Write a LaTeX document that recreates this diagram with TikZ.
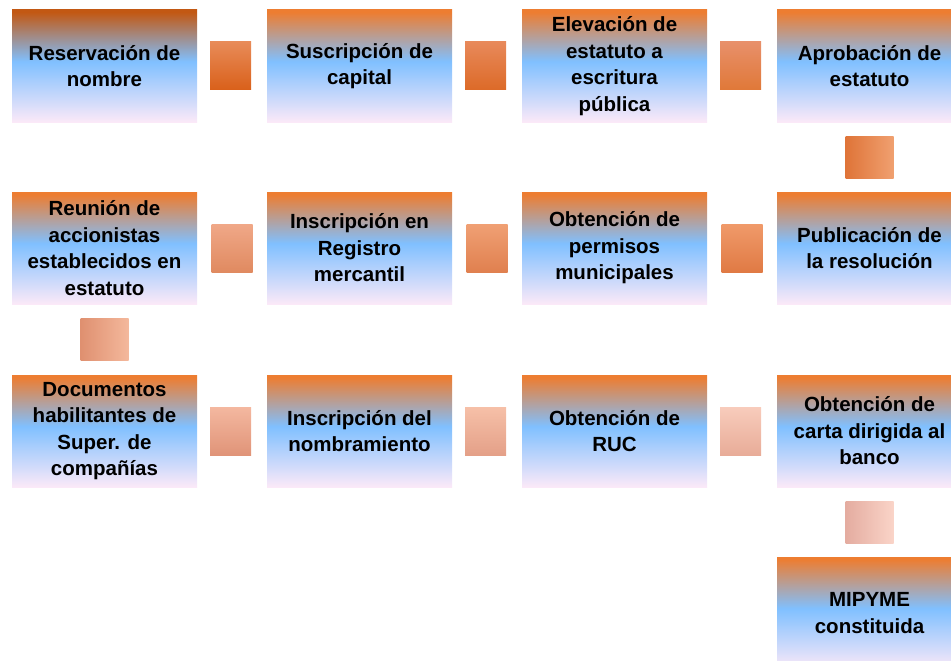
\documentclass[tikz,border=0pt]{standalone}
\usepackage{fontspec}
\setmainfont{Liberation Sans}
\usetikzlibrary{calc}
\definecolor{bpink}{HTML}{FBE9F8}
\definecolor{bblue}{HTML}{80C0FF}
\definecolor{odark}{HTML}{C25813}
\definecolor{olight}{HTML}{ED7D31}
\pgfdeclareverticalshading{boxdark}{100bp}{color(0bp)=(bpink); color(25bp)=(bpink); color(52bp)=(bblue); color(74bp)=(odark); color(100bp)=(odark)}
\pgfdeclareverticalshading{boxlight}{100bp}{color(0bp)=(bpink); color(25bp)=(bpink); color(52bp)=(bblue); color(74bp)=(olight); color(100bp)=(olight)}
\begin{document}
\begin{tikzpicture}[x=1pt,y=-1pt,
  stage/.style={minimum width=185pt, minimum height=112pt, inner sep=0pt, shade, shading=boxlight,
    align=center, font=\bfseries\fontsize{20.5}{26.5}\selectfont},
  hconn/.style={minimum width=41pt, minimum height=48pt, inner sep=0pt},
  vconn/.style={minimum width=48pt, minimum height=42pt, inner sep=0pt}]
\useasboundingbox (0,0) rectangle (951,661);
\clip (0,0) rectangle (951,661);
% stages
\node[stage, shading=boxdark] (b1) at (104.5,66) {Reservación de\\nombre};
\node[stage] (b2) at (359.5,66) {Suscripción de\\capital};
\node[stage] (b3) at (614.5,66) {Elevación de\\estatuto a\\escritura\\pública};
\node[stage] (b4) at (869.5,66) {Aprobación de\\estatuto};
\node[stage] (b5) at (869.5,248) {Publicación de\\la resolución};
\node[stage] (b6) at (614.5,248) {Obtención de\\permisos\\municipales};
\node[stage] (b7) at (359.5,248) {Inscripción en\\Registro\\mercantil};
\node[stage] (b8) at (104.5,248) {Reunión de\\accionistas\\establecidos en\\estatuto};
\node[stage] (b9) at (104.5,431) {Documentos\\habilitantes de\\Super. de\\compañías};
\node[stage] (b10) at (359.5,431) {Inscripción del\\nombramiento};
\node[stage] (b11) at (614.5,431) {Obtención de\\RUC};
\node[stage] (b12) at (869.5,431) {Obtención de\\carta dirigida al\\banco};
\node[stage] (b13) at (869.5,613) {MIPYME\\constituida};
% connectors
\node[hconn, top color={rgb,255:red,232;green,139;blue,88}, bottom color={rgb,255:red,217;green,96;blue,26}, xshift=-1.5pt] (c1) at ($(b1.east)!0.5!(b2.west)$) {};
\node[hconn, top color={rgb,255:red,232;green,137;blue,90}, bottom color={rgb,255:red,220;green,106;blue,40}, xshift=-1.5pt] (c2) at ($(b2.east)!0.5!(b3.west)$) {};
\node[hconn, top color={rgb,255:red,232;green,144;blue,106}, bottom color={rgb,255:red,224;green,120;blue,56}, xshift=-1.5pt] (c3) at ($(b3.east)!0.5!(b4.west)$) {};
\node[vconn, left color={rgb,255:red,223;green,116;blue,56}, right color={rgb,255:red,240;green,160;blue,112}] (c4) at ($(b4.south)!0.5!(b5.north)$) {};
\node[hconn, top color={rgb,255:red,240;green,154;blue,106}, bottom color={rgb,255:red,224;green,122;blue,68}] (c5) at ($(b5.west)!0.5!(b6.east)$) {};
\node[hconn, top color={rgb,255:red,240;green,160;blue,116}, bottom color={rgb,255:red,224;green,128;blue,79}] (c6) at ($(b6.west)!0.5!(b7.east)$) {};
\node[hconn, top color={rgb,255:red,240;green,168;blue,136}, bottom color={rgb,255:red,224;green,138;blue,96}] (c7) at ($(b7.west)!0.5!(b8.east)$) {};
\node[vconn, left color={rgb,255:red,223;green,144;blue,112}, right color={rgb,255:red,244;green,184;blue,156}] (c8) at ($(b8.south)!0.5!(b9.north)$) {};
\node[hconn, top color={rgb,255:red,244;green,184;blue,160}, bottom color={rgb,255:red,224;green,148;blue,120}, xshift=-1.5pt] (c9) at ($(b9.east)!0.5!(b10.west)$) {};
\node[hconn, top color={rgb,255:red,246;green,192;blue,168}, bottom color={rgb,255:red,228;green,160;blue,136}, xshift=-1.5pt] (c10) at ($(b10.east)!0.5!(b11.west)$) {};
\node[hconn, top color={rgb,255:red,248;green,204;blue,188}, bottom color={rgb,255:red,232;green,172;blue,152}, xshift=-1.5pt] (c11) at ($(b11.east)!0.5!(b12.west)$) {};
\node[vconn, left color={rgb,255:red,228;green,172;blue,160}, right color={rgb,255:red,250;green,212;blue,200}] (c12) at ($(b12.south)!0.5!(b13.north)$) {};
\end{tikzpicture}
\end{document}
